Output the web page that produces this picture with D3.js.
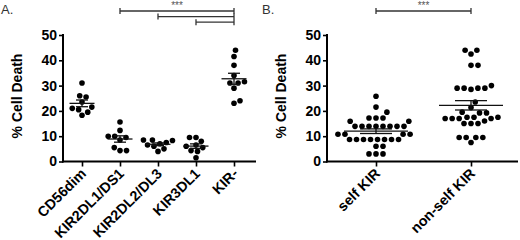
<!DOCTYPE html>
<html>
<head>
<meta charset="utf-8">
<script src="https://cdn.jsdelivr.net/npm/d3@7"></script>
<style>
  html, body { margin: 0; padding: 0; background: #fff; }
  svg { display: block; }
  text { font-family: Arial, "Liberation Sans", sans-serif; }
</style>
</head>
<body>
<svg id="chart" width="520" height="240"></svg>
<script>
// ---------- data ----------
const catsA = ["CD56dim", "KIR2DL1/DS1", "KIR2DL2/DL3", "KIR3DL1", "KIR-"];
const cd56dim = [31, 25.5, 26, 23.5, 21, 21.5, 20.5, 19.5, 18.3];
const kir2dl1 = [15.6, 12.3, 10, 10, 9.5, 8.5, 5.5, 4.3, 4.3];
const kir2dl2 = [8.5, 8.5, 8.3, 7.5, 7, 6.5, 6, 5, 4];
const kir3dl1 = [9.5, 9.5, 8, 6.5, 6, 5.5, 4.3, 4, 1.5];
const kirNeg = [44, 41.5, 38, 34, 31, 31, 31.5, 29, 23, 24];
const seriesA = [cd56dim, kir2dl1, kir2dl2, kir3dl1, kirNeg];
const compsA = [["KIR2DL1/DS1", "KIR-"], ["KIR2DL2/DL3", "KIR-"], ["KIR3DL1", "KIR-"]];

const catsB = ["self KIR", "non-self KIR"];
const selfKir = [25.8, 21.5, 19.5, 17.2, 17.2, 17.2, 15.9, 15.9,
  13.9, 13.9, 13.9, 13.9, 13.9, 13.9, 13.9, 13.9,
  10.8, 10.8, 10.8, 10.8,
  8.7, 8.7, 8.7, 8.7, 8.7, 8.7, 8.7, 8.7,
  6, 6, 3, 3, 3];
const nonSelfKir = [44, 44, 42.5, 38, 38, 29, 29, 28.5, 29, 29, 30,
  23.5, 21.3, 19.5, 19.2, 19.2,
  17.5, 17, 17, 17, 17, 17.5, 17.5,
  15, 15, 15, 16,
  9.5, 9.5, 7.5, 9.5, 9.5];
const seriesB = [selfKir, nonSelfKir];
const compsB = [["self KIR", "non-self KIR"]];

const yTicks = [0, 10, 20, 30, 40, 50];
const yTitle = "% Cell Death";
const sigLabel = "***";

// ---------- drawing ----------
const svg = d3.select("#chart");
const y = d3.scaleLinear().domain([0, 50]).range([161.5, 35]);

function beeswarm(values, cx, dist) {
  const order = values.map((v, i) => i).sort((a, b) => values[a] - values[b]);
  const placed = [];
  const out = new Array(values.length);
  order.forEach(i => {
    const py = y(values[i]);
    const forb = [];
    placed.forEach(p => {
      const dy = Math.abs(p.y - py);
      if (dy < dist) {
        const w = Math.sqrt(dist * dist - dy * dy);
        forb.push([p.x - w, p.x + w]);
      }
    });
    const cands = [0];
    forb.forEach(f => { cands.push(f[0] - 0.001, f[1] + 0.001); });
    const ok = cands.filter(c => forb.every(f => c <= f[0] || c >= f[1]));
    ok.sort((a, b) => Math.abs(a) - Math.abs(b) || b - a);
    const ox = ok[0];
    placed.push({ x: ox, y: py });
    out[i] = { x: cx + ox, y: py };
  });
  return out;
}

function panel(opt) {
  const g = svg.append("g");
  const x = d3.scalePoint().domain(opt.cats).range(opt.xr);

  // y axis
  const ya = g.append("g").attr("transform", `translate(${opt.ax},0)`)
    .call(d3.axisLeft(y).tickValues(yTicks).tickSize(4).tickPadding(2).tickFormat(d3.format("d")));
  ya.select(".domain").remove();
  ya.selectAll(".tick line").attr("stroke", "#000").attr("stroke-width", 1.6);
  ya.selectAll(".tick text").attr("font-size", 14).attr("font-weight", "bold").attr("fill", "#000")
    .attr("font-family", "Arial, 'Liberation Sans', sans-serif");
  g.append("line").attr("x1", opt.ax).attr("x2", opt.ax).attr("y1", y(50) - 1).attr("y2", y(0) + 1)
    .attr("stroke", "#000").attr("stroke-width", 2);

  // x axis
  const xa = g.append("g").attr("transform", `translate(0,${y(0)})`)
    .call(d3.axisBottom(x).tickSize(5).tickFormat(""));
  xa.select(".domain").remove();
  xa.selectAll(".tick line").attr("stroke", "#000").attr("stroke-width", 1.6);
  g.append("line").attr("x1", opt.ax - 1).attr("x2", opt.axEnd).attr("y1", y(0)).attr("y2", y(0))
    .attr("stroke", "#000").attr("stroke-width", 2);

  // category labels
  g.selectAll("text.cat").data(opt.cats).join("text")
    .attr("class", "cat")
    .attr("transform", d => `translate(${x(d) + 5},${y(0) + 13}) rotate(-45)`)
    .attr("text-anchor", "end")
    .attr("font-size", 14.3).attr("font-weight", "bold").attr("fill", "#000")
    .text(d => d);

  // y title
  g.append("text")
    .attr("transform", `translate(${opt.ax - 41},${96}) rotate(-90)`)
    .attr("text-anchor", "middle")
    .attr("font-size", 14).attr("font-weight", "bold").attr("fill", "#000")
    .text(yTitle);

  // panel letter
  g.append("text").attr("x", opt.lx).attr("y", 14)
    .attr("font-size", 13).attr("fill", "#333").text(opt.letter);

  // dots, mean, SEM
  opt.series.forEach((vals, i) => {
    const cx = x(opt.cats[i]);
    const pts = beeswarm(vals, cx, opt.dist);
    g.append("g").selectAll("circle").data(pts).join("circle")
      .attr("cx", d => d.x).attr("cy", d => d.y).attr("r", 2.8).attr("fill", "#000");
    const m = d3.mean(vals);
    const sem = d3.deviation(vals) / Math.sqrt(vals.length);
    const lg = g.append("g").attr("stroke", "#111").attr("stroke-width", 1.3).attr("fill", "none");
    lg.append("line").attr("x1", cx - opt.mw).attr("x2", cx + opt.mw).attr("y1", y(m)).attr("y2", y(m));
    lg.append("line").attr("x1", cx).attr("x2", cx).attr("y1", y(m + sem)).attr("y2", y(m - sem));
    [m + sem, m - sem].forEach(v => {
      lg.append("line").attr("x1", cx - opt.cw).attr("x2", cx + opt.cw).attr("y1", y(v)).attr("y2", y(v));
    });
  });

  // significance bars
  const sg = g.append("g").attr("stroke", "#333").attr("stroke-width", 1.3).attr("fill", "none");
  opt.comps.forEach((c, i) => {
    const by = 11 + i * 5.6;
    const x1 = x(c[0]), x2 = x(c[1]);
    sg.append("line").attr("x1", x1).attr("x2", x2).attr("y1", by).attr("y2", by);
    sg.append("line").attr("x1", x1).attr("x2", x1).attr("y1", by - 3).attr("y2", by + 3);
    sg.append("line").attr("x1", x2).attr("x2", x2).attr("y1", by - 3).attr("y2", by + 3);
  });
  const c0 = opt.comps[0];
  g.append("text").attr("x", (x(c0[0]) + x(c0[1])) / 2).attr("y", 9)
    .attr("text-anchor", "middle").attr("font-size", 10).attr("fill", "#555")
    .text(sigLabel);
}

panel({ cats: catsA, series: seriesA, comps: compsA, xr: [82, 234], ax: 63, axEnd: 256,
  mw: 12.5, cw: 6, dist: 6.5, letter: "A.", lx: 1 });
panel({ cats: catsB, series: seriesB, comps: compsB, xr: [376, 471], ax: 327, axEnd: 518,
  mw: 32, cw: 16, dist: 7, letter: "B.", lx: 262 });
</script>
</body>
</html>
